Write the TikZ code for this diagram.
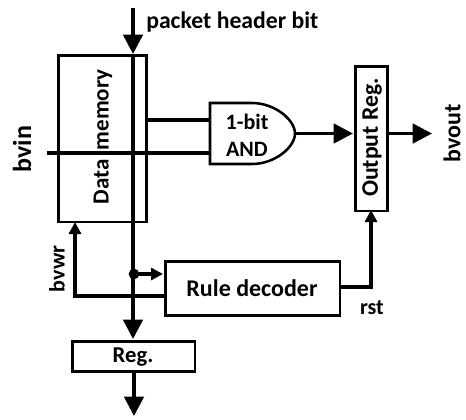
\documentclass[tikz,border=0pt]{standalone}
\usepackage{fontspec}
\setmainfont{Carlito}
\usetikzlibrary{arrows.meta}
\newcommand{\lblsize}[1]{\fontsize{#1}{#1}\selectfont}
\tikzset{
  x=0.75pt,y=-0.75pt,
  blk/.style={draw=black,line width=1.9pt,fill=white,inner sep=0pt},
  wire/.style={draw=black,line width=2.6pt},
  bighead/.style={-{Triangle[length=14.5pt,width=14.5pt]}},
  smallhead/.style={-{Triangle[length=9pt,width=9pt]}},
  lbl/.style={font=\bfseries,inner sep=0pt,align=center},
}
\begin{document}
\begin{tikzpicture}
\useasboundingbox (0,0) rectangle (466,419);
% boxes
\node[blk,minimum width=66pt,minimum height=125pt,anchor=north west] (mem) at (57,54) {};
\node[blk,minimum width=24pt,minimum height=108.5pt,anchor=north west] (out) at (354,65) {};
\node[blk,minimum width=131pt,minimum height=40.5pt,anchor=north west] (dec) at (164,260) {};
\node[blk,minimum width=92pt,minimum height=22.5pt,anchor=north west] (reg) at (71,340) {};
% AND gate
\draw[blk] (210,103) -- (252,103) .. controls (275,103) and (295,120) .. (295,133.5) .. controls (295,147) and (275,164) .. (252,164) -- (210,164) -- cycle;
\coordinate (andU) at (210,120);
\coordinate (andL) at (210,153);
\coordinate (andO) at (295,133.5);
\coordinate (top) at (133,8);
\coordinate (bvinS) at (47,153);
\coordinate (memR) at (145,120);
\coordinate (dot) at (134,274);
\coordinate (bot) at (134,416);
\coordinate (outE) at (432,133.5);
\coordinate (outW) at (353,133.5);
\coordinate (outB) at (371,210);
\coordinate (memB) at (75,222);
% wires
\draw[wire] (memR) -- (andU);
\draw[wire] (bvinS) -- (andL);
\draw[wire,bighead] (top) -- (133,54);
\draw[wire,bighead] (133,54) -- (133,339);
\draw[wire,bighead] (andO) -- (outW);
\draw[wire,bighead] (386,133.5) -- (outE);
\draw[wire,smallhead] (339,287) -| (outB);
\draw[wire,smallhead] (164,296) -| (memB);
\fill (dot) circle (4pt);
\draw[wire,smallhead] (dot) -- (163,274);
\draw[wire,bighead] (134,370) -- (bot);
% labels
\node[lbl,anchor=west] (l1) at (146,22) {\lblsize{17.8pt}packet header bit};
\node[lbl,rotate=90] (l2) at (103,137) {\lblsize{17.3pt}Data\hspace{3pt} memory};
\node[lbl,font=\bfseries\lblsize{16.5pt}] (l3) at (247,135) {1-bit\\[3.5pt]AND};
\node[lbl,rotate=90] (l4) at (372,137.5) {\lblsize{17.8pt}Output Reg.};
\node[lbl] (l5) at (252,288) {\lblsize{18pt}Rule decoder};
\node[lbl] (l6) at (133,357) {\lblsize{17pt}Reg.};
\node[lbl] (l7) at (372,308) {\lblsize{16.5pt}rst};
\node[lbl,rotate=90] (l8) at (22,149) {\lblsize{19.5pt}bvin};
\node[lbl,rotate=90] (l9) at (57,269) {\lblsize{16.5pt}bvwr};
\node[lbl,rotate=90] (l10) at (452,133) {\lblsize{18pt}bvout};
\end{tikzpicture}
\end{document}
